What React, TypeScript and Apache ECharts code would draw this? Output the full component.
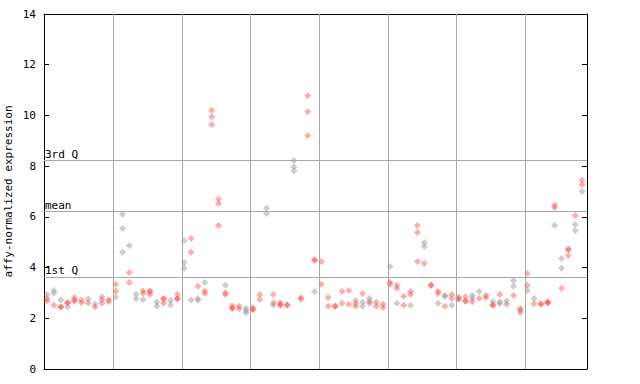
import React, { useEffect, useRef } from "react";
import * as echarts from "echarts";

// Replicate values per sample (index = sample position), split by colour
const greyReps: number[][] = [
  [2.94], [3.10, 3.00], [2.72], [2.45], [], [], [2.77], [2.56], [2.85], [],
  [2.84], [6.10, 5.54, 4.60], [4.87], [2.95, 2.77], [2.74], [], [2.64, 2.48], [], [2.70, 2.52], [],
  [5.07, 4.20, 3.97], [2.72], [2.78, 2.71], [3.41], [], [], [3.30], [], [], [2.40, 2.31, 2.22],
  [2.44], [], [6.34, 6.13], [2.52], [], [], [8.22, 7.97, 7.81], [], [], [3.06],
  [], [], [], [], [], [2.70], [2.63, 2.47], [2.78, 2.67], [], [],
  [4.04], [2.59], [], [2.51], [], [4.99, 4.83], [], [2.59], [2.90, 2.87], [2.51],
  [2.85], [], [2.90, 2.78], [3.06], [], [2.65], [2.65, 2.57], [2.69], [3.49, 3.26], [2.22],
  [3.10], [2.78], [], [], [5.66], [4.36, 3.97], [], [5.70, 5.46], [7.00],
];
const redReps: number[][] = [
  [2.78, 2.68], [2.51], [2.45, 2.45], [2.61, 2.61], [2.82, 2.72, 2.67], [2.72, 2.61], [2.61], [2.45], [2.74, 2.59], [2.74, 2.65],
  [3.34, 3.07], [], [3.81, 3.41], [], [3.08, 2.99], [3.08, 3.05, 2.94], [], [2.77, 2.77, 2.59], [], [2.95, 2.77, 2.77],
  [], [5.15, 4.60], [3.26], [3.08, 2.98], [10.2, 9.95, 9.64], [6.70, 6.53, 5.66], [3.02, 2.94], [2.49, 2.40, 2.40], [2.47, 2.38], [],
  [2.35, 2.35], [2.94, 2.74], [], [2.94, 2.61], [2.61, 2.52, 2.52], [2.52, 2.52], [], [2.81, 2.76], [10.78, 10.15, 9.20], [4.30, 4.30],
  [4.24, 3.34], [2.82, 2.47], [2.47, 2.47], [3.06, 2.59], [3.10, 2.55], [2.59, 2.47], [2.98], [2.59], [2.63, 2.47], [2.55, 2.43],
  [3.41, 3.34], [3.30, 3.18], [2.86, 2.51], [3.06, 2.94], [5.66, 5.38, 4.24], [4.16], [3.30, 3.30], [3.06, 2.98], [2.47], [2.94, 2.78],
  [2.76, 2.76], [2.85, 2.68, 2.68], [2.65], [2.78], [2.90, 2.82], [2.51, 2.51], [2.94], [2.55], [2.90], [2.39, 2.31],
  [3.77, 3.30], [2.57], [2.57, 2.55], [2.65, 2.61, 2.61], [6.46, 6.37], [3.18], [4.71, 4.71, 4.48], [6.05], [7.44, 7.27],
];
const groupSeparators: number[] = [9.7, 19.7, 29.7, 39.7, 49.7, 59.7, 69.7];
const refLines: { name: string; value: number }[] = [
  { name: "3rd Q", value: 8.22 },
  { name: "mean", value: 6.21 },
  { name: "1st Q", value: 3.61 },
];
const yTicks: number[] = [0, 2, 4, 6, 8, 10, 12, 14];

const FONT = "DejaVu Sans Mono";

function toPoints(reps: number[][]): number[][] {
  const pts: number[][] = [];
  reps.forEach((vals, i) => vals.forEach((v) => pts.push([i, v])));
  return pts;
}

export default function App() {
  const ref = useRef<HTMLDivElement>(null);
  useEffect(() => {
    if (!ref.current) return;
    const chart = echarts.init(ref.current, undefined, { renderer: "svg" });
    const xMin = -0.44;
    const xMax = 78.72;
    chart.setOption({
      animation: false,
      grid: { left: 44, right: 53, top: 14, bottom: 15, containLabel: false, outerBoundsMode: "none" },
      xAxis: [
        {
          type: "value", min: xMin, max: xMax,
          axisLine: { show: true, onZero: false, lineStyle: { color: "#000", width: 1 } },
          axisTick: { show: false }, axisLabel: { show: false }, splitLine: { show: false },
        },
        {
          type: "value", min: xMin, max: xMax, position: "top",
          axisLine: { show: true, onZero: false, lineStyle: { color: "#000", width: 1 } },
          axisTick: { show: false }, axisLabel: { show: false }, splitLine: { show: false },
        },
      ],
      yAxis: [
        {
          type: "value", min: yTicks[0], max: yTicks[yTicks.length - 1], interval: 2,
          name: "affy-normalized expression", nameLocation: "middle", nameGap: 30, nameMoveOverlap: false,
          nameTextStyle: { fontFamily: FONT, fontSize: 11, color: "#000" },
          axisLine: { show: true, onZero: false, lineStyle: { color: "#000", width: 1 } },
          axisTick: { show: true, inside: true, length: 5, lineStyle: { color: "#000" } },
          axisLabel: { fontFamily: FONT, fontSize: 11, color: "#000", margin: 8 },
          splitLine: { show: false },
        },
        {
          type: "value", min: yTicks[0], max: yTicks[yTicks.length - 1], interval: 2, position: "right",
          axisLine: { show: true, onZero: false, lineStyle: { color: "#000", width: 1 } },
          axisTick: { show: true, inside: true, length: 5, lineStyle: { color: "#000" } },
          axisLabel: { show: false }, splitLine: { show: false },
        },
      ],
      series: [
        {
          type: "scatter", name: "lines", data: [], silent: true,
          markLine: {
            silent: true, symbol: ["none", "none"], animation: false,
            lineStyle: { color: "#a8a8a8", type: "solid", width: 1 },
            label: { show: false },
            data: [
              ...groupSeparators.map((x) => ({ xAxis: x })),
              ...refLines.map((r) => ({
                yAxis: r.value, name: r.name,
                label: {
                  show: true, position: "insideStartTop", formatter: r.name, distance: [1, 1],
                  fontFamily: FONT, fontSize: 11, color: "#000",
                },
              })),
            ],
          },
        },
        {
          type: "scatter", name: "grey", data: toPoints(greyReps), symbol: "diamond", symbolSize: 7,
          itemStyle: { color: "rgba(150,150,150,0.6)" },
        },
        {
          type: "scatter", name: "red", data: toPoints(redReps), symbol: "diamond", symbolSize: 7,
          itemStyle: { color: "rgba(255,70,70,0.55)" },
        },
      ],
    });
    return () => chart.dispose();
  }, []);
  return <div ref={ref} style={{ width: 640, height: 384, position: "absolute", left: 0, top: 0 }} />;
}
